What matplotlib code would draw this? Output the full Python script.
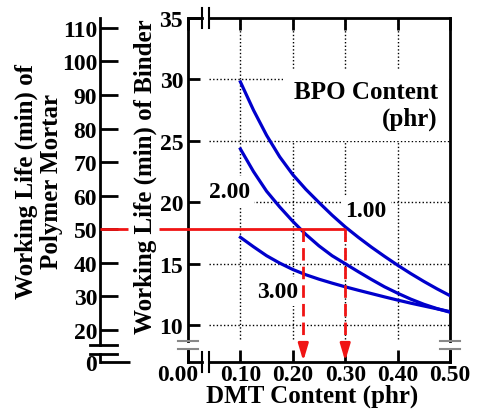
import matplotlib
matplotlib.use('Agg')
import matplotlib.pyplot as plt
import matplotlib.transforms as mtransforms
from matplotlib.ticker import FixedLocator, FixedFormatter

# ---------------- data ----------------
dmt = [0.100, 0.125, 0.150, 0.175, 0.200, 0.225, 0.250, 0.275, 0.300,
       0.325, 0.350, 0.375, 0.400, 0.425, 0.450, 0.475, 0.500]
bpo_1 = [29.8, 27.5, 25.45, 23.7, 22.25, 21.05, 19.98, 18.95, 18.0,
         17.15, 16.35, 15.6, 14.88, 14.2, 13.56, 12.96, 12.4]
bpo_2 = [24.34, 22.5, 20.9, 19.62, 18.45, 17.38, 16.45, 15.65, 15.0,
         14.35, 13.72, 13.12, 12.6, 12.12, 11.7, 11.35, 11.05]
bpo_3 = [17.15, 16.38, 15.65, 15.05, 14.53, 14.1, 13.74, 13.42, 13.12,
         12.84, 12.57, 12.3, 12.04, 11.79, 11.56, 11.33, 11.1]
curve_labels = ['1.00', '2.00', '3.00']

x_ticks = [0.0, 0.1, 0.2, 0.3, 0.4, 0.5]
x_tick_labels = ['', '0.10', '0.20', '0.30', '0.40', '0.50']
x_zero_label = '0.00'
y_ticks = [10, 15, 20, 25, 30, 35]
y_tick_labels = ['10', '15', '20', '25', '30', '35']
x_grid = [0.1, 0.2, 0.3, 0.4]
y_grid = [10, 15, 20, 25, 30]
mortar_ticks = [20, 30, 40, 50, 60, 70, 80, 90, 100, 110]
mortar_tick_labels = ['20', '30', '40', '50', '60', '70', '80', '90', '100', '110']
mortar_zero_label = '0'

target_binder = 17.8   # binder working life matching 50 min mortar
target_mortar = 50
read_dmt = [0.22, 0.30]

# ---------------- style ----------------
plt.rcParams['font.family'] = ['Liberation Serif', 'DejaVu Serif']
plt.rcParams['font.weight'] = 'bold'
BLUE = '#0000cc'
RED = '#f01414'
GRAY = '#888888'
TICK_FS = 17
LAB_FS = 18

W, H = 479, 410
fig = plt.figure(figsize=(W / 100, H / 100), dpi=100)


def fx(px):
    return px / W


def fy(py):
    return 1 - py / H


# main axes (pixel box 188..450 x 19..363)
ax = fig.add_axes([fx(188), fy(363), fx(450) - fx(188), fy(19) - fy(363)])
ax.set_xlim(0, 0.5)
ax.set_ylim(7, 35)
ax.patch.set_visible(False)
for s in ax.spines.values():
    s.set_visible(False)

ax.set_xticks(x_ticks)
ax.set_xticklabels(x_tick_labels)
ax.set_yticks(y_ticks)
ax.set_yticklabels(y_tick_labels)
ax.tick_params(axis='both', direction='in', length=8.5, width=2, labelsize=TICK_FS)
ax.tick_params(axis='x', top=True, bottom=True, pad=1.5)
ax.tick_params(axis='y', left=True, right=False, pad=3.5)
ax.annotate(x_zero_label, xy=(0, 0), xycoords=('data', 'axes fraction'),
            xytext=(-10, -2), textcoords='offset pixels', ha='center', va='top',
            fontsize=TICK_FS, annotation_clip=False)

# manual broken spines
kw = dict(transform=ax.transAxes, clip_on=False, color='black', lw=2, solid_capstyle='projecting')
yb_lo, yb_hi = 13 / 344, 21 / 344
xb_lo, xb_hi = 14 / 262, 21 / 262
for xs in (0, 1):
    ax.plot([xs, xs], [yb_hi, 1], **kw)
    ax.plot([xs, xs], [0, yb_lo], **kw)
    for yy in (yb_lo, yb_hi):
        ax.plot([xs - 10 / 262, xs + 10 / 262], [yy, yy], transform=ax.transAxes,
                clip_on=False, color=GRAY, lw=1.5)
for ys in (0, 1):
    ax.plot([0, xb_lo], [ys, ys], **kw)
    ax.plot([xb_hi, 1], [ys, ys], **kw)
    for xx in (xb_lo, xb_hi):
        ax.plot([xx, xx], [ys - 10 / 344, ys + 10 / 344], transform=ax.transAxes,
                clip_on=False, color='black', lw=1.5)

# dotted grid
dot = (0, (1, 1.6))
ax.hlines(y_grid, 0.041, 0.5, colors='black', linestyles=dot, lw=1, zorder=1)
ax.vlines(x_grid, 8.9, 35, colors='black', linestyles=dot, lw=1, zorder=1)

# curves
for ys in (bpo_1, bpo_2, bpo_3):
    ax.plot(dmt, ys, color=BLUE, lw=2.3, zorder=4, solid_joinstyle='round')

box = dict(facecolor='white', edgecolor='none', pad=3)
ax.text(0.34, 19.33, curve_labels[0], ha='center', va='center', fontsize=TICK_FS, bbox=box, zorder=3)
ax.text(0.079, 20.9, curve_labels[1], ha='center', va='center', fontsize=TICK_FS, bbox=box, zorder=3)
ax.text(0.171, 12.74, curve_labels[2], ha='center', va='center', fontsize=TICK_FS, bbox=box, zorder=3)
ax.text(0.477, 27.92, 'BPO Content\n(phr)', ha='right', va='center', multialignment='right',
        fontsize=LAB_FS, bbox=dict(facecolor='white', edgecolor='none', pad=8), zorder=3)

# red guide lines
ax.plot([-0.056, read_dmt[-1]], [target_binder, target_binder], color=RED, lw=2,
        clip_on=False, zorder=5, solid_capstyle='butt')
for xr in read_dmt:
    ln, = ax.plot([xr, xr], [target_binder, 8.3], color=RED, lw=2, zorder=5)
    ln.set_dashes((4.5, 2.2))
    ax.annotate('', xy=(xr, 7.08), xytext=(xr, 8.3),
                arrowprops=dict(arrowstyle='-|>,head_length=0.5,head_width=0.15',
                                mutation_scale=20, color=RED, lw=2,
                                shrinkA=0, shrinkB=0), zorder=5)

# secondary (mortar) axis
mortar_per_binder = 3.66
m_lo = target_mortar + (7 - target_binder) * mortar_per_binder
m_hi = target_mortar + (35 - target_binder) * mortar_per_binder
ax2 = fig.add_axes([fx(100), fy(363), fx(188) - fx(100), fy(19) - fy(363)])
ax2.set_ylim(m_lo, m_hi)
ax2.set_xlim(0, 1)
ax2.patch.set_visible(False)
for s in ax2.spines.values():
    s.set_visible(False)
ax2.set_xticks([])
ax2.set_yticks(mortar_ticks)
ax2.set_yticklabels(mortar_tick_labels)
ax2.yaxis.set_minor_locator(FixedLocator([m_lo]))
ax2.yaxis.set_minor_formatter(FixedFormatter([mortar_zero_label]))
ax2.tick_params(axis='y', which='major', direction='in', length=13, width=2, labelsize=TICK_FS, pad=2)
ax2.tick_params(axis='y', which='minor', direction='in', length=21.5, width=2, labelsize=TICK_FS, pad=2)

kw2 = dict(transform=ax2.transAxes, clip_on=False, color='black', lw=2, solid_capstyle='projecting')
mb_lo, mb_hi = 8 / 344, 17 / 344
ax2.plot([0, 0], [mb_hi, 1], **kw2)
ax2.plot([0, 0], [0, mb_lo], **kw2)
for yy in (mb_lo, mb_hi):
    ax2.plot([-10 / 88, 17 / 88], [yy, yy], transform=ax2.transAxes, clip_on=False,
             color='black', lw=2)

blend2 = mtransforms.blended_transform_factory(ax2.transAxes, ax2.transData)
ax2.plot([0, 0.32], [target_mortar, target_mortar], transform=blend2, color=RED, lw=2,
         clip_on=False, solid_capstyle='butt')

# axis titles
fig.text(fx(312.5), fy(396), 'DMT Content (phr)', ha='center', va='center', fontsize=LAB_FS)
fig.text(fx(145), fy(176.5), 'Working Life (min) of Binder', ha='center', va='center',
         rotation=90, fontsize=LAB_FS)
fig.text(fx(39), fy(182), 'Working Life (min) of\nPolymer Mortar', ha='center', va='center',
         rotation=90, fontsize=LAB_FS, multialignment='center', linespacing=1.1)

fig.savefig('out.png', dpi=100)
